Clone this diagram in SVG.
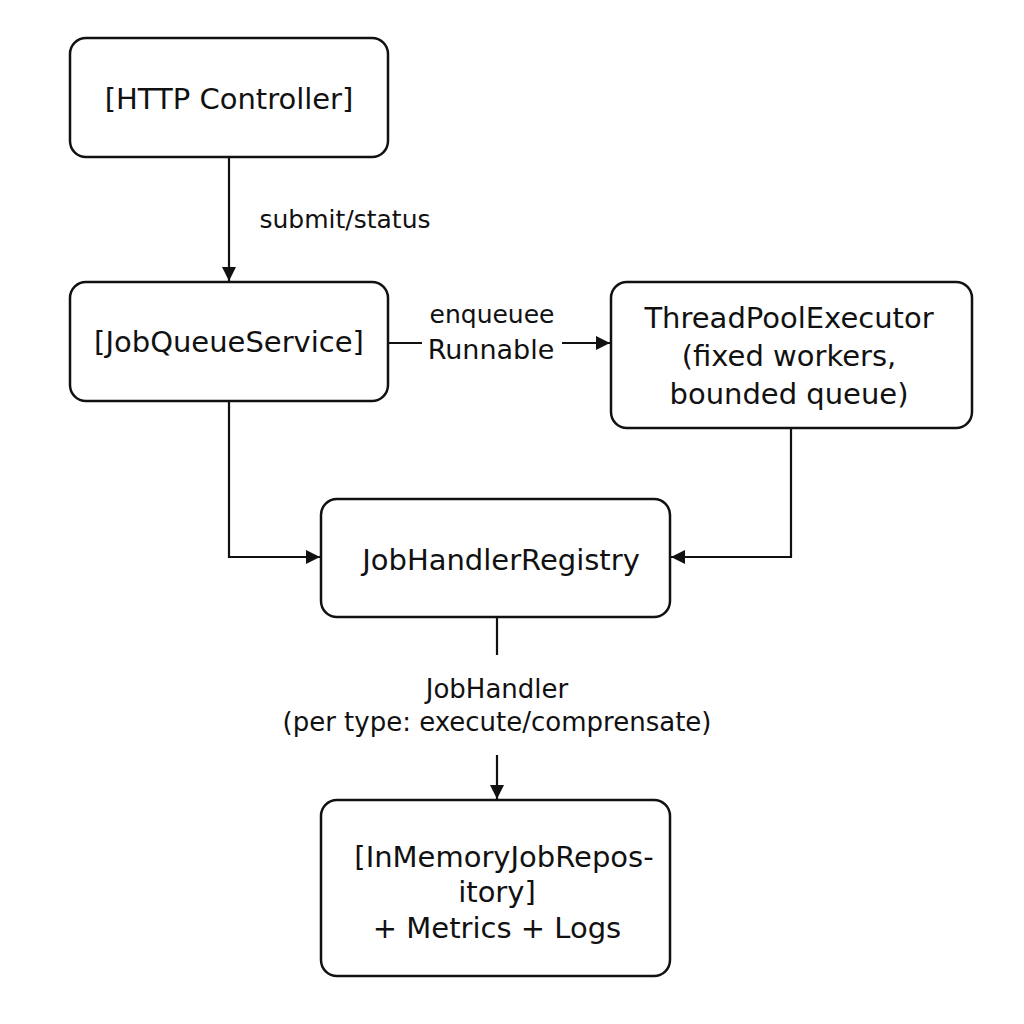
<svg xmlns="http://www.w3.org/2000/svg" width="1024" height="1024" viewBox="0 0 1024 1024">
<style>
.box{fill:#fff;stroke:#111;stroke-width:2.5}
.t{font-family:"DejaVu Sans","Liberation Sans",sans-serif;fill:#111;text-anchor:middle}
.big{font-size:29px}
.sm{font-size:25px}
.ln{fill:none;stroke:#111;stroke-width:2.2}
</style>
<defs>
<marker id="ah2" viewBox="0 0 10 10" refX="10" refY="5" markerWidth="16" markerHeight="14" markerUnits="userSpaceOnUse" orient="auto"><path d="M0,0 L10,5 L0,10 z" fill="#111"/></marker>
</defs>
<rect width="1024" height="1024" fill="#fff"/>
<g id="connectors">
<line class="ln" x1="229" y1="157" x2="229" y2="281" marker-end="url(#ah2)"/>
<text class="t sm" x="345" y="228">submit/status</text>
<line class="ln" x1="388" y1="343" x2="422" y2="343"/>
<line class="ln" x1="562" y1="343" x2="610" y2="343" marker-end="url(#ah2)"/>
<text class="t" style="font-size:25px" x="492" y="323">enqueuee</text>
<text class="t" style="font-size:27px" x="491" y="359">Runnable</text>
<polyline class="ln" points="229,401 229,557 320,557" marker-end="url(#ah2)"/>
<polyline class="ln" points="791,428 791,557 671,557" marker-end="url(#ah2)"/>
<line class="ln" x1="497" y1="617" x2="497" y2="655"/>
<text class="t" style="font-size:26px" x="497" y="698">JobHandler</text>
<text class="t" style="font-size:26px" x="497" y="731">(per type: execute/comprensate)</text>
<line class="ln" x1="497" y1="755" x2="497" y2="799" marker-end="url(#ah2)"/>
</g>
<g id="http-controller">
<rect class="box" x="70" y="38" width="318" height="119" rx="16"/>
<text class="t big" x="229" y="109">[HTTP Controller]</text>
</g>
<g id="job-queue-service">
<rect class="box" x="70" y="282" width="318" height="119" rx="16"/>
<text class="t big" x="229" y="352">[JobQueueService]</text>
</g>
<g id="thread-pool-executor">
<rect class="box" x="611" y="282" width="361" height="146" rx="16"/>
<text class="t big" x="789" y="328">ThreadPoolExecutor</text>
<text class="t big" x="789" y="366">(fixed workers,</text>
<text class="t big" x="789" y="404">bounded queue)</text>
</g>
<g id="job-handler-registry">
<rect class="box" x="321" y="499" width="349" height="118" rx="16"/>
<text class="t big" x="501" y="570">JobHandlerRegistry</text>
</g>
<g id="in-memory-job-repository">
<rect class="box" x="321" y="800" width="349" height="176" rx="16"/>
<text class="t big" x="504" y="867">[InMemoryJobRepos-</text>
<text class="t big" x="497" y="902">itory]</text>
<text class="t big" x="497" y="938">+ Metrics + Logs</text>
</g>
</svg>
